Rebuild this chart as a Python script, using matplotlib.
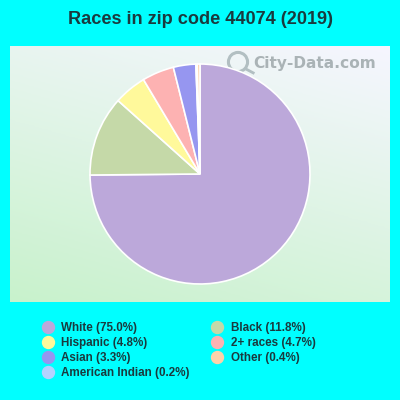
import numpy as np
import matplotlib
matplotlib.use('Agg')
import matplotlib.pyplot as plt
from matplotlib.colors import LinearSegmentedColormap
from matplotlib.lines import Line2D

# Pie data, in drawing order
races = ['White', 'Black', 'Hispanic', '2+ races', 'Asian', 'American Indian', 'Other']
shares = [75.0, 11.8, 4.8, 4.7, 3.3, 0.2, 0.4]
colors = ['#bca8da', '#c5d9a8', '#fff99b', '#fdb2b2', '#9696f0', '#b4d2ff', '#fdd2aa']

# Legend order
legend_order = ['White', 'Hispanic', 'Asian', 'American Indian', 'Black', '2+ races', 'Other']

text_color = '#1a3a3e'

plt.rcParams['font.family'] = ['Liberation Sans', 'DejaVu Sans']

W, H = 400, 400
fig = plt.figure(figsize=(4, 4), dpi=100, facecolor='#00ffff')

def px_axes(x0, y0, x1, y1):
    # pixel box, y measured from the top of the picture
    return fig.add_axes([x0/W, 1 - y1/H, (x1-x0)/W, (y1-y0)/H])

# Background gradient panel
bg = px_axes(10, 46, 390, 302)
bg.axis('off')
u, v = np.meshgrid(np.linspace(0, 1, 200), np.linspace(0, 1, 200))
cmap = LinearSegmentedColormap.from_list('panel', ['#c8f2cc', '#f6f6ff'])
bg.imshow(0.3*u + 0.7*v, origin='lower', cmap=cmap, vmin=0, vmax=1,
          aspect='auto', extent=[0, 1, 0, 1])

# Watermark
bg.text(0.64, 0.93, 'City-Data.com', fontsize=11.1, color='#aab3b6', fontweight='bold',
        family=['DejaVu Sans'], va='center', ha='left', transform=bg.transAxes)
bg.scatter([0.6], [0.9375], s=190, facecolor='none', edgecolor='#b2bfc2', linewidth=2.2,
           transform=bg.transAxes)
bg.plot([0.621, 0.64], [0.91, 0.895], color='#b2bfc2', linewidth=2, transform=bg.transAxes)

# Pie
ax = px_axes(90, 64, 310, 284)
ax.pie(shares, colors=colors, startangle=90, counterclock=False, radius=1,
       wedgeprops={'edgecolor': 'white', 'linewidth': 1.2})
ax.set_xlim(-1, 1)
ax.set_ylim(-1, 1)
ax.set_aspect('equal')

# Title
fig.text(200/W, 1 - 20/H, 'Races in zip code 44074 (2019)', fontsize=13.1, fontweight='bold',
         color=text_color, ha='center', va='center')

# Legend
handles = []
for name in legend_order:
    i = races.index(name)
    handles.append(Line2D([], [], linestyle='none', marker='o', markersize=8.6,
                          markerfacecolor=colors[i], markeredgecolor=colors[i],
                          label='%s (%.1f%%)' % (name, shares[i])))
fig.legend(handles=handles, ncol=2, loc='upper left', bbox_to_anchor=(36/W, 1 - 322/H),
           frameon=False, labelcolor=text_color, prop={'weight': 'bold', 'size': 8.4},
           handletextpad=0.18, columnspacing=1.32, labelspacing=0.27, borderpad=0, borderaxespad=0)

fig.savefig('out.png', dpi=100, facecolor=fig.get_facecolor())
